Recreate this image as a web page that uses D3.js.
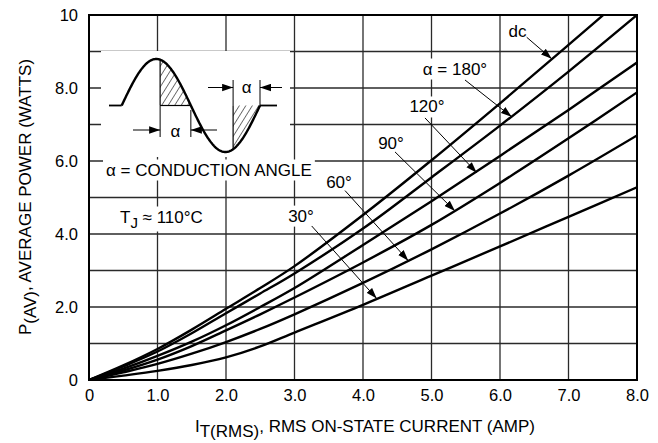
<!DOCTYPE html>
<html>
<head>
<meta charset="utf-8">
<script src="https://cdn.jsdelivr.net/npm/d3@7"></script>
<style>
  body { margin: 0; background: #fff; }
  text { font-family: "Liberation Sans", Arial, Helvetica, sans-serif; fill: #000; }
</style>
</head>
<body>
<svg id="chart" width="658" height="443"></svg>
<script>
// values
const currents = [0, 0.5, 1, 1.5, 2, 2.5, 3, 4, 5, 6, 7, 8];
const powerDC  = [0, 0.40, 0.85, 1.38, 1.95, 2.52, 3.12, 4.52, 6.02, 7.58, 9.18, 10.8];
const power180 = [0, 0.37, 0.78, 1.28, 1.83, 2.37, 2.92, 4.15, 5.55, 6.97, 8.45, 10.0];
const power120 = [0, 0.31, 0.66, 1.05, 1.50, 2.00, 2.52, 3.70, 4.90, 6.14, 7.40, 8.70];
const power90  = [0, 0.26, 0.56, 0.93, 1.36, 1.80, 2.26, 3.22, 4.25, 5.40, 6.62, 7.88];
const power60  = [0, 0.21, 0.44, 0.72, 1.04, 1.40, 1.80, 2.66, 3.58, 4.56, 5.60, 6.70];
const power30  = [0, 0.12, 0.25, 0.41, 0.62, 0.92, 1.30, 2.06, 2.86, 3.66, 4.47, 5.28];
const seriesValues = [powerDC, power180, power120, power90, power60, power30];

const xTicks = [0, 1, 2, 3, 4, 5, 6, 7, 8];
const xTickLabels = ["0", "1.0", "2.0", "3.0", "4.0", "5.0", "6.0", "7.0", "8.0"];
const yTicks = [0, 2, 4, 6, 8, 10];
const yTickLabels = ["0", "2.0", "4.0", "6.0", "8.0", "10"];

const curveLabels = ["dc", "\u03B1 = 180\u00B0", "120\u00B0", "90\u00B0", "60\u00B0", "30\u00B0"];
const labelAt   = [[6.255, 9.56], [5.343, 8.52], [4.934, 7.48], [4.409, 6.49], [3.65, 5.42], [3.095, 4.49]];
const leaderFrom = [[6.39, 9.39], [5.489, 8.22], [4.905, 7.18], [4.467, 6.25], [3.737, 5.19], [3.251, 4.22]];
const leaderTip  = [[6.755, 8.80], [6.171, 7.21], [5.66, 5.68], [5.343, 4.63], [4.661, 3.27], [4.2, 2.23]];

const W = 658, H = 443;
const margin = {top: 15, right: 21, bottom: 63, left: 89};
const svg = d3.select("#chart");

const x = d3.scaleLinear().domain([0, 8]).range([margin.left, W - margin.right]);
const y = d3.scaleLinear().domain([0, 10]).range([H - margin.bottom, margin.top]);

// arrow head, hatch, clip
svg.append("defs").html(
  '<marker id="head" markerUnits="userSpaceOnUse" markerWidth="12" markerHeight="8" refX="11" refY="4" orient="auto">' +
  '<path d="M0,0.3L11,4L0,7.7Z" fill="#000"/></marker>' +
  '<pattern id="hatch" patternUnits="userSpaceOnUse" width="5.5" height="5.5" patternTransform="rotate(32)">' +
  '<line x1="0" y1="0" x2="0" y2="5.5" stroke="#000" stroke-width="1.1"/></pattern>' +
  '<clipPath id="plotclip"><rect x="' + x(0) + '" y="' + y(10) + '" width="' + (x(8) - x(0)) + '" height="' + (y(0) - y(10)) + '"/></clipPath>'
);

// grid
const grid = svg.append("g").attr("stroke", "#2a2a2a").attr("stroke-width", 1.3);
grid.selectAll("line.v").data(d3.range(1, 8)).enter().append("line")
  .attr("x1", d => x(d)).attr("x2", d => x(d)).attr("y1", y(0)).attr("y2", y(10));
grid.selectAll("line.h").data(d3.range(1, 10)).enter().append("line")
  .attr("y1", d => y(d)).attr("y2", d => y(d)).attr("x1", x(0)).attr("x2", x(8));

// white masks behind the inset and texts
const masks = svg.append("g").attr("fill", "#fff");
masks.append("rect").attr("x", 101).attr("y", 51).attr("width", 189).attr("height", 106);

// curves
const line = d3.line().x((d, i) => x(currents[i])).y(d => y(d)).curve(d3.curveCatmullRom.alpha(0.5));
svg.append("g").attr("clip-path", "url(#plotclip)")
  .selectAll("path").data(seriesValues).enter().append("path")
  .attr("d", line).attr("fill", "none").attr("stroke", "#000").attr("stroke-width", 2.4);

// frame
svg.append("rect").attr("x", x(0)).attr("y", y(10))
  .attr("width", x(8) - x(0)).attr("height", y(0) - y(10))
  .attr("fill", "none").attr("stroke", "#000").attr("stroke-width", 2);

// axes (labels only)
const xAxis = svg.append("g").attr("transform", `translate(0,${y(0) + 6})`)
  .call(d3.axisBottom(x).tickValues(xTicks).tickSize(0).tickFormat((d, i) => xTickLabels[i]));
const yAxis = svg.append("g").attr("transform", `translate(${x(0) - 8},0)`)
  .call(d3.axisLeft(y).tickValues(yTicks).tickSize(0).tickFormat((d, i) => yTickLabels[i]));
[xAxis, yAxis].forEach(a => {
  a.select(".domain").remove();
  a.selectAll("text").attr("font-size", 16.5).attr("font-family", '"Liberation Sans", Arial, sans-serif').attr("fill", "#000");
});

// axis titles
const xt = svg.append("text").attr("x", 365).attr("y", 432).attr("text-anchor", "middle").attr("font-size", 17);
xt.append("tspan").text("I");
xt.append("tspan").attr("dy", 5).text("T(RMS)");
xt.append("tspan").attr("dy", -5).text(", RMS ON-STATE CURRENT (AMP)");

const yt = svg.append("text").attr("transform", `translate(31,197) rotate(-90)`)
  .attr("text-anchor", "middle").attr("font-size", 17);
yt.append("tspan").text("P");
yt.append("tspan").attr("dy", 5).text("(AV)");
yt.append("tspan").attr("dy", -5).text(", AVERAGE POWER (WATTS)");

// text helper with white box behind
function boxedText(px, py, anchor, build) {
  const t = svg.append("text").attr("x", px).attr("y", py).attr("text-anchor", anchor)
    .attr("dominant-baseline", "central").attr("font-size", 17);
  build(t);
  const b = t.node().getBBox();
  masks.append("rect").attr("x", b.x - 3).attr("y", b.y - 1).attr("width", b.width + 6).attr("height", b.height + 2);
  return t;
}

// curve labels and leaders
curveLabels.forEach((lab, i) => {
  boxedText(x(labelAt[i][0]), y(labelAt[i][1]), "middle", t => t.text(lab));
  svg.append("line")
    .attr("x1", x(leaderFrom[i][0])).attr("y1", y(leaderFrom[i][1]))
    .attr("x2", x(leaderTip[i][0])).attr("y2", y(leaderTip[i][1]))
    .attr("stroke", "#000").attr("stroke-width", 1).attr("marker-end", "url(#head)");
});

// notes
boxedText(106, 170, "start", t => t.text("\u03B1 = CONDUCTION ANGLE"));
boxedText(120, 217, "start", t => {
  t.append("tspan").text("T");
  t.append("tspan").attr("dy", 5).attr("font-size", 15).text("J");
  t.append("tspan").attr("dy", -5).text(" \u2248 110\u00B0C");
});

// inset: conduction waveform
const phase = d3.scaleLinear().domain([0, 360]).range([121.7, 260]);
const amp = d3.scaleLinear().domain([-1, 1]).range([152, 59]);
const base = amp(0);
const sine = p => amp(Math.sin(p * Math.PI / 180));
const inset = svg.append("g");
const hatchArea = d3.area().x(p => phase(p)).y0(base).y1(p => sine(p));
[[100, 180], [290, 360]].forEach(([a, b]) => {
  inset.append("path").attr("d", hatchArea(d3.range(a, b + 1, 2))).attr("fill", "url(#hatch)");
  inset.append("line").attr("x1", phase(a)).attr("x2", phase(a)).attr("y1", base).attr("y2", sine(a))
    .attr("stroke", "#000").attr("stroke-width", 1.2);
});
inset.append("line").attr("x1", phase(100)).attr("x2", phase(180)).attr("y1", base).attr("y2", base)
  .attr("stroke", "#000").attr("stroke-width", 1.2);
inset.append("path")
  .attr("d", d3.line().x(p => phase(p)).y(p => sine(p))(d3.range(0, 361, 2)))
  .attr("fill", "none").attr("stroke", "#000").attr("stroke-width", 2.4);
inset.append("line").attr("x1", 109).attr("x2", phase(0)).attr("y1", base).attr("y2", base)
  .attr("stroke", "#000").attr("stroke-width", 1.8);
inset.append("line").attr("x1", phase(360)).attr("x2", 277).attr("y1", base).attr("y2", base)
  .attr("stroke", "#000").attr("stroke-width", 1.8);

// alpha dimension marks
const dim = inset.append("g").attr("stroke", "#000").attr("stroke-width", 1);
dim.append("line").attr("x1", phase(100)).attr("x2", phase(100)).attr("y1", base).attr("y2", 137);
dim.append("line").attr("x1", phase(180)).attr("x2", phase(180)).attr("y1", 110).attr("y2", 137);
dim.append("line").attr("x1", 133).attr("x2", phase(100)).attr("y1", 130).attr("y2", 130).attr("marker-end", "url(#head)");
dim.append("line").attr("x1", 217).attr("x2", phase(180)).attr("y1", 130).attr("y2", 130).attr("marker-end", "url(#head)");
dim.append("line").attr("x1", phase(290)).attr("x2", phase(290)).attr("y1", 80).attr("y2", base);
dim.append("line").attr("x1", phase(360)).attr("x2", phase(360)).attr("y1", 80).attr("y2", base);
dim.append("line").attr("x1", 208).attr("x2", phase(290)).attr("y1", 87.5).attr("y2", 87.5).attr("marker-end", "url(#head)");
dim.append("line").attr("x1", 282).attr("x2", phase(360)).attr("y1", 87.5).attr("y2", 87.5).attr("marker-end", "url(#head)");
inset.append("text").attr("x", (phase(100) + phase(180)) / 2).attr("y", 131).attr("text-anchor", "middle")
  .attr("dominant-baseline", "central").attr("font-size", 17).text("\u03B1");
inset.append("text").attr("x", (phase(290) + phase(360)) / 2).attr("y", 87).attr("text-anchor", "middle")
  .attr("dominant-baseline", "central").attr("font-size", 17).text("\u03B1");
</script>
</body>
</html>
